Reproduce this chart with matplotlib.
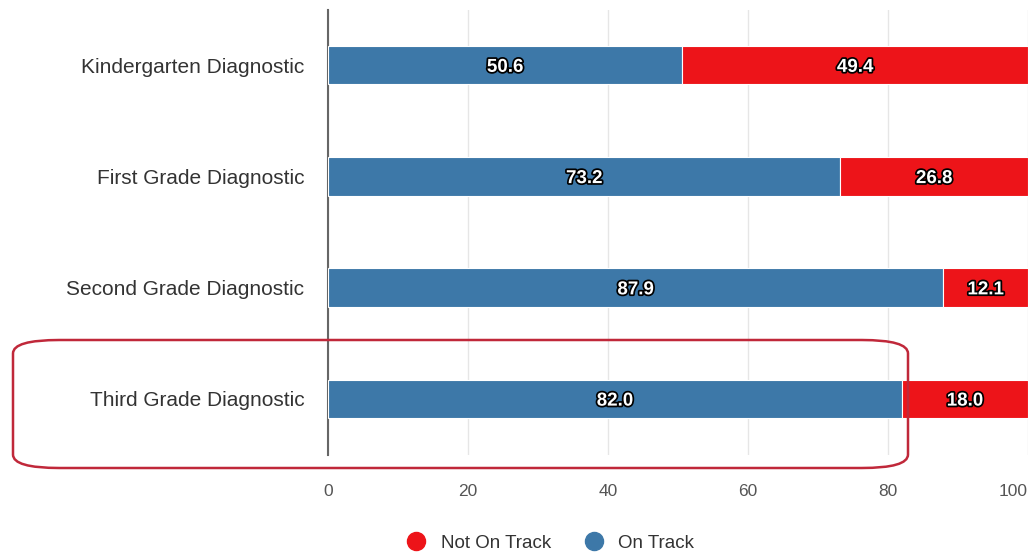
import matplotlib.pyplot as plt
import matplotlib.patheffects as pe
from matplotlib.patches import FancyBboxPatch
from matplotlib.lines import Line2D

plt.rcParams['font.family'] = ['Liberation Sans', 'DejaVu Sans']

categories = ['Kindergarten Diagnostic', 'First Grade Diagnostic',
              'Second Grade Diagnostic', 'Third Grade Diagnostic']
on_track = [50.6, 73.2, 87.9, 82.0]
not_on_track = [49.4, 26.8, 12.1, 18.0]
xticks = [0, 20, 40, 60, 80, 100]

blue = '#3d78a8'
red = '#ed1419'

fig = plt.figure(figsize=(10.31, 5.54), dpi=100)
ax = fig.add_axes([328 / 1031, 1 - 454.5 / 554, 700 / 1031, 445 / 554])

y = list(range(len(categories)))
ax.barh(y, on_track, height=0.345, color=blue, edgecolor='white', linewidth=0.8, zorder=3)
ax.barh(y, not_on_track, left=on_track, height=0.345, color=red, edgecolor='white',
        linewidth=0.8, zorder=3)

outline = [pe.withStroke(linewidth=2.5, foreground='black')]
for i in y:
    ax.text(on_track[i] / 2, i + 0.02, f'{on_track[i]:.1f}', ha='center', va='center',
            color='white', fontsize=13.5, fontweight='bold', path_effects=outline, zorder=4)
    ax.text(on_track[i] + not_on_track[i] / 2, i + 0.02, f'{not_on_track[i]:.1f}',
            ha='center', va='center', color='white', fontsize=13.5, fontweight='bold',
            path_effects=outline, zorder=4)

ax.set_xlim(0, 100)
ax.set_ylim(len(categories) - 0.5, -0.5)
ax.set_xticks(xticks)
ax.set_yticks(y)
ax.set_yticklabels(categories)
ax.tick_params(axis='y', length=0, pad=17, labelsize=15, labelcolor='#333333')
ax.tick_params(axis='x', length=0, pad=21, labelsize=12.5, labelcolor='#555555')
ax.get_xticklabels()[-1].set_horizontalalignment('right')
ax.grid(axis='x', color='#e6e6e6', linewidth=1, zorder=0)
for s in ['top', 'right', 'bottom']:
    ax.spines[s].set_visible(False)
ax.spines['left'].set_color('#666666')
ax.spines['left'].set_linewidth(1.5)

# highlight box around third grade
box = FancyBboxPatch((13 / 1031, 1 - 468 / 554), 895 / 1031, 128 / 554,
                     boxstyle='round,pad=0,rounding_size=0.045',
                     transform=fig.transFigure, fill=False,
                     edgecolor='#c0283a', linewidth=1.8, mutation_aspect=554 / 1031)
fig.patches.append(box)

handles = [Line2D([], [], marker='o', linestyle='none', markersize=13, color=red),
           Line2D([], [], marker='o', linestyle='none', markersize=13, color=blue)]
fig.legend(handles, ['Not On Track', 'On Track'], loc='center',
           bbox_to_anchor=(546 / 1031, 1 - 543 / 554), ncol=2, frameon=False,
           fontsize=13.5, labelcolor='#333333', handletextpad=0.3, columnspacing=1.3)

fig.savefig('out.png', dpi=100)
